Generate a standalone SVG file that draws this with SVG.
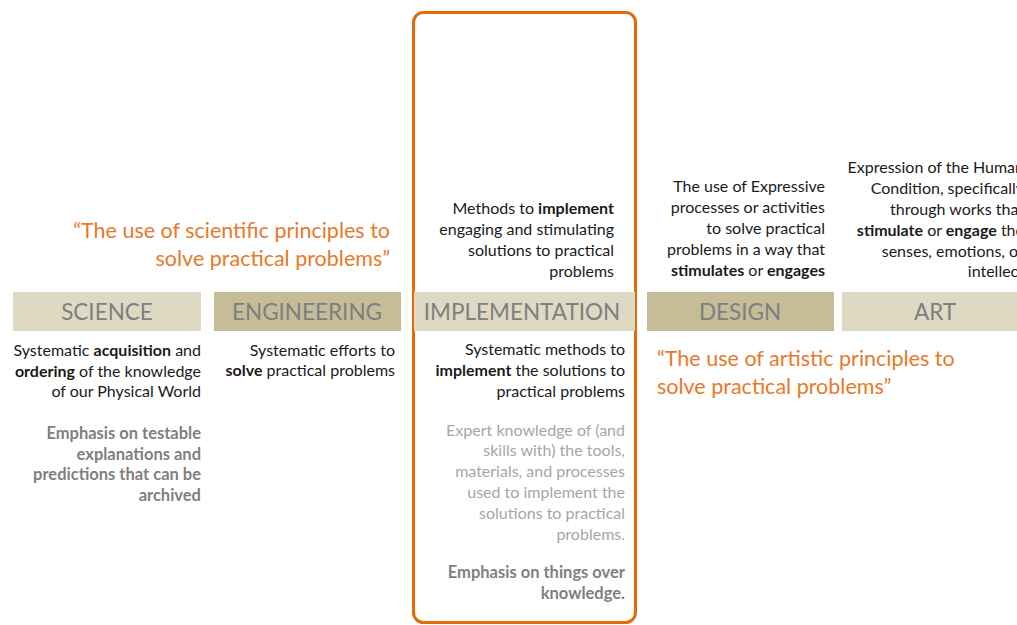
<svg xmlns="http://www.w3.org/2000/svg" width="1017" height="625" viewBox="0 0 1017 625">
<style>
text{font-family:Lato,"Open Sans","Liberation Sans",sans-serif}
.lbl{font-size:22.5px;fill:#7f7f7f;text-anchor:middle}
.light{fill:#ddd9c3}
.dark{fill:#c4bd97}
.b{font-size:16px;fill:#1a1a1a;text-anchor:end}
.g{font-size:16.5px;fill:#7f7f7f;text-anchor:end;font-weight:bold}
.lg{font-size:16px;fill:#a6a6a6;text-anchor:end}
.q{font-size:21.5px;fill:#e8792b}
.bold{font-weight:bold}
</style>
<rect width="1017" height="625" fill="#ffffff"/>
<g id="highlight">
<rect x="413.5" y="12.5" width="222" height="610" rx="10" fill="none" stroke="#e36c09" stroke-width="3"/>
</g>
<g id="science">
<rect class="light" x="13" y="292" width="188" height="39"/>
<text class="lbl" x="107" y="320">SCIENCE</text>
<text class="b" x="201"><tspan x="201" y="356">Systematic <tspan class="bold">acquisition</tspan> and</tspan><tspan x="201" y="377"><tspan class="bold">ordering</tspan> of the knowledge</tspan><tspan x="201" y="397">of our Physical World</tspan></text>
<text class="g"><tspan x="201" y="439">Emphasis on testable</tspan><tspan x="201" y="460">explanations and</tspan><tspan x="201" y="480">predictions that can be</tspan><tspan x="201" y="501">archived</tspan></text>
</g>
<g id="engineering">
<rect class="dark" x="214" y="292" width="187" height="39"/>
<text class="lbl" x="307" y="320">ENGINEERING</text>
<text class="b"><tspan x="395" y="356">Systematic efforts to</tspan><tspan x="395" y="376"><tspan class="bold">solve</tspan> practical problems</tspan></text>
</g>
<g id="implementation">
<rect class="light" x="414" y="292" width="221" height="39"/>
<text class="lbl" x="522" y="320">IMPLEMENTATION</text>
<text class="b"><tspan x="614" y="214">Methods to <tspan class="bold">implement</tspan></tspan><tspan x="614" y="235">engaging and stimulating</tspan><tspan x="614" y="256">solutions to practical</tspan><tspan x="614" y="277">problems</tspan></text>
<text class="b"><tspan x="625" y="355">Systematic methods  to</tspan><tspan x="625" y="376"><tspan class="bold">implement</tspan> the solutions to</tspan><tspan x="625" y="397">practical problems</tspan></text>
<text class="lg"><tspan x="625" y="436">Expert knowledge of (and</tspan><tspan x="625" y="456">skills with) the  tools,</tspan><tspan x="625" y="477">materials, and processes</tspan><tspan x="625" y="498">used to implement  the</tspan><tspan x="625" y="519">solutions to practical</tspan><tspan x="625" y="540">problems.</tspan></text>
<text class="g"><tspan x="625" y="578">Emphasis on things over</tspan><tspan x="625" y="599">knowledge.</tspan></text>
</g>
<g id="design">
<rect class="dark" x="647" y="292" width="187" height="39"/>
<text class="lbl" x="740" y="320">DESIGN</text>
<text class="b"><tspan x="825" y="192">The use of Expressive</tspan><tspan x="825" y="213">processes or activities</tspan><tspan x="825" y="234">to solve practical</tspan><tspan x="825" y="255">problems  in a way that</tspan><tspan x="825" y="276"><tspan class="bold">stimulates</tspan> or <tspan class="bold">engages</tspan></tspan></text>
</g>
<g id="art">
<rect class="light" x="842" y="292" width="180" height="39"/>
<text class="lbl" x="935" y="320">ART</text>
<text class="b"><tspan x="1024" y="173">Expression of the Human</tspan><tspan x="1024" y="194">Condition, specifically</tspan><tspan x="1024" y="215">through works that</tspan><tspan x="1024" y="236"><tspan class="bold">stimulate</tspan> or <tspan class="bold">engage</tspan> the</tspan><tspan x="1024" y="257">senses, emotions, or</tspan><tspan x="1024" y="277">intellect</tspan></text>
</g>
<g id="science-quote">
<text class="q" text-anchor="end"><tspan x="390" y="238">“The use of scientific principles to</tspan><tspan x="390" y="266">solve practical problems”</tspan></text>
</g>
<g id="design-quote">
<text class="q"><tspan x="657" y="366">“The use of artistic principles to</tspan><tspan x="657" y="394">solve practical problems”</tspan></text>
</g>
</svg>
